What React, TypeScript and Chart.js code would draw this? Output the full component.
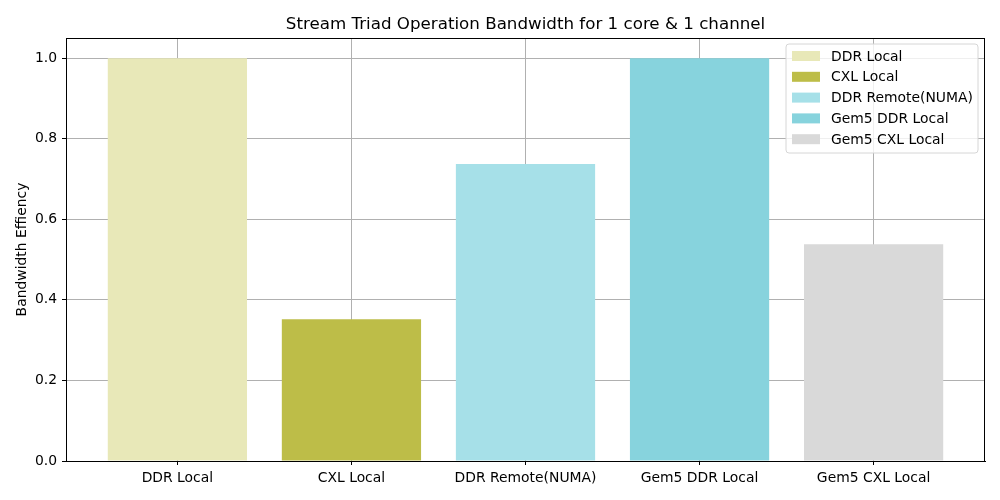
import React, { useEffect, useRef } from "react";
import { Chart, registerables } from "chart.js";

Chart.register(...registerables);

const categories = ["DDR Local", "CXL Local", "DDR Remote(NUMA)", "Gem5 DDR Local", "Gem5 CXL Local"];
const values = [1.0, 0.352, 0.737, 1.0, 0.538];
const colors = ["#e8e8b8", "#bdbd48", "#a6e0e8", "#87d3dd", "#d9d9d9"];
const yTicks = [0, 0.2, 0.4, 0.6, 0.8, 1.0];
const titleText = "Stream Triad Operation Bandwidth for 1 core & 1 channel";
const yLabel = "Bandwidth Effiency";

const FONT = "'DejaVu Sans', sans-serif";

const decorPlugin = {
  id: "decor",
  afterDatasetsDraw(chart: any) {
    const { ctx, chartArea } = chart;
    const { left, right, top, bottom } = chartArea;
    ctx.save();
    // frame
    ctx.strokeStyle = "#000";
    ctx.lineWidth = 1;
    ctx.strokeRect(left + 0.5, top + 0.5, right - left - 1, bottom - top);
    // title
    ctx.fillStyle = "#000";
    ctx.font = `16.7px ${FONT}`;
    ctx.textAlign = "center";
    ctx.textBaseline = "alphabetic";
    ctx.fillText(titleText, (left + right) / 2, top - 9);
    // y label
    ctx.save();
    ctx.translate(26, (top + bottom) / 2);
    ctx.rotate(-Math.PI / 2);
    ctx.font = `13.9px ${FONT}`;
    ctx.textAlign = "center";
    ctx.textBaseline = "alphabetic";
    ctx.fillText(yLabel, 0, 0);
    ctx.restore();
    // legend
    const ds = chart.data.datasets;
    const bx = right - 199;
    const by = top + 6;
    const bw = 192;
    const rowH = 20.8;
    const bh = 10 + rowH * ds.length - 5;
    ctx.beginPath();
    const r = 3;
    ctx.moveTo(bx + r, by);
    ctx.lineTo(bx + bw - r, by);
    ctx.arcTo(bx + bw, by, bx + bw, by + r, r);
    ctx.lineTo(bx + bw, by + bh - r);
    ctx.arcTo(bx + bw, by + bh, bx + bw - r, by + bh, r);
    ctx.lineTo(bx + r, by + bh);
    ctx.arcTo(bx, by + bh, bx, by + bh - r, r);
    ctx.lineTo(bx, by + r);
    ctx.arcTo(bx, by, bx + r, by, r);
    ctx.closePath();
    ctx.fillStyle = "rgba(255,255,255,0.8)";
    ctx.fill();
    ctx.strokeStyle = "#d6d6d6";
    ctx.lineWidth = 1;
    ctx.stroke();
    ctx.font = `13.9px ${FONT}`;
    ctx.textAlign = "left";
    ctx.textBaseline = "middle";
    ds.forEach((d: any, i: number) => {
      const cy = by + 12 + i * rowH;
      ctx.fillStyle = d.backgroundColor;
      ctx.fillRect(bx + 6, cy - 5, 28, 10);
      ctx.fillStyle = "#000";
      ctx.fillText(d.label, bx + 45, cy + 1);
    });
    ctx.restore();
  },
};

export default function App() {
  const ref = useRef<HTMLCanvasElement>(null);
  useEffect(() => {
    document.body.style.margin = "0";
    const canvas = ref.current!;
    const chart = new Chart(canvas, {
      type: "bar",
      data: {
        datasets: categories.map((c, i) => ({
          label: c,
          data: [{ x: i, y: values[i] }],
          backgroundColor: colors[i],
          borderWidth: 0,
          grouped: false,
          barPercentage: 0.8,
          categoryPercentage: 1.0,
        })),
      },
      options: {
        animation: false,
        responsive: false,
        layout: { padding: { left: 0, right: 15, top: 38, bottom: 0 } },
        plugins: {
          legend: { display: false },
          title: { display: false },
          tooltip: { enabled: false },
        },
        scales: {
          x: {
            type: "linear",
            min: -0.64,
            max: 4.64,
            offset: false,
            afterBuildTicks(scale: any) {
              scale.ticks = categories.map((_, i) => ({ value: i }));
            },
            afterFit(scale: any) {
              scale.height = 39;
            },
            ticks: {
              callback: (v: any) => categories[v] ?? "",
              font: { family: FONT, size: 13.9 },
              color: "#000",
              padding: 5,
              maxRotation: 0,
              autoSkip: false,
            },
            grid: {
              offset: false,
              color: "#b0b0b0",
              lineWidth: 1,
              tickColor: "#000",
              tickLength: 4,
              drawOnChartArea: true,
            },
            border: { color: "#000", width: 1 },
          },
          y: {
            min: 0,
            max: 1.05,
            afterBuildTicks(scale: any) {
              scale.ticks = yTicks.map((v) => ({ value: v }));
            },
            afterFit(scale: any) {
              scale.width = 66;
            },
            ticks: {
              callback: (v: any) => Number(v).toFixed(1),
              font: { family: FONT, size: 13.9 },
              color: "#000",
              padding: 5,
            },
            grid: {
              color: "#b0b0b0",
              lineWidth: 1,
              tickColor: "#000",
              tickLength: 4,
            },
            border: { color: "#000", width: 1 },
          },
        },
      },
      plugins: [decorPlugin],
    } as any);
    return () => chart.destroy();
  }, []);
  return <canvas ref={ref} width={1000} height={500} style={{ display: "block" }} />;
}
